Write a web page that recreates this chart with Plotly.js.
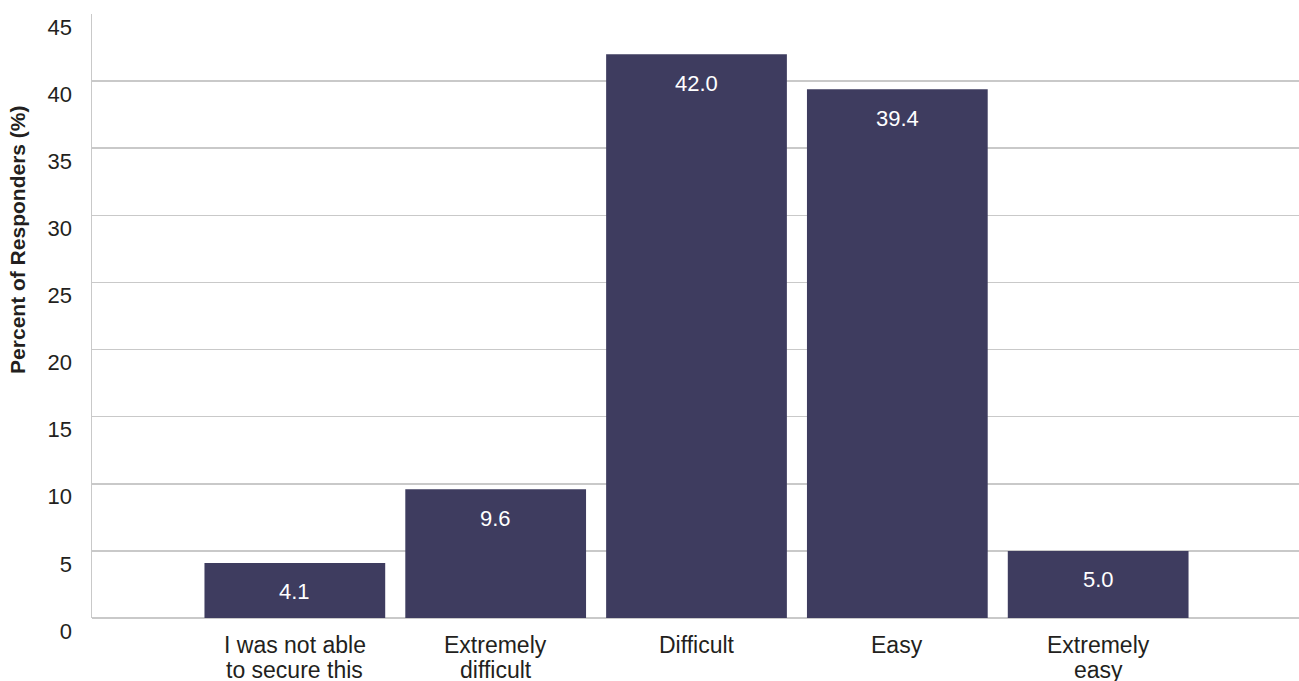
<!DOCTYPE html>
<html>
<head>
<meta charset="utf-8">
<script src="https://cdn.plot.ly/plotly-3.0.1.min.js"></script>
<style>
  html, body { margin: 0; padding: 0; background: #ffffff; }
  #chart { width: 1299px; height: 681px; }
</style>
</head>
<body>
<div id="chart"></div>
<script>
const categories = [
  "I was not able<br>to secure this",
  "Extremely<br>difficult",
  "Difficult",
  "Easy",
  "Extremely<br>easy"
];
const percentValues = [4.1, 9.6, 42.0, 39.4, 5.0];
const valueLabels = ["4.1", "9.6", "42.0", "39.4", "5.0"];
const yTickValues = [0, 5, 10, 15, 20, 25, 30, 35, 40, 45];
const yAxisTitle = "Percent of Responders (%)";

const FONT = "Liberation Sans, Arial, Helvetica, sans-serif";
const TEXT = "#231f20";
const BAR = "#3e3c5f";

const trace = {
  type: "bar",
  x: categories,
  y: percentValues,
  marker: { color: BAR, line: { width: 0 } },
  hoverinfo: "x+y"
};

const valueAnnotations = categories.map((c, i) => ({
  x: c, y: percentValues[i], xref: "x", yref: "y",
  text: valueLabels[i], showarrow: false,
  yanchor: "middle", xanchor: "center", yshift: -29,
  font: { family: FONT, size: 22, color: "#ffffff" }
}));

// category labels drawn line by line (tighter line spacing than Plotly's default)
const categoryAnnotations = [];
categories.forEach(c => {
  c.split("<br>").forEach((line, j) => {
    categoryAnnotations.push({
      x: c, y: 0, xref: "x", yref: "y",
      text: line, showarrow: false,
      xanchor: "center", yanchor: "middle",
      yshift: -26.5 - 25 * j,
      font: { family: FONT, size: 23, color: TEXT }
    });
  });
});

const titleAnnotation = {
  xref: "paper", yref: "paper", x: -0.0613, y: 0.626,
  text: "<b>" + yAxisTitle + "</b>", textangle: -90, showarrow: false,
  xanchor: "center", yanchor: "middle",
  font: { family: FONT, size: 21, color: TEXT }
};

const layout = {
  width: 1299, height: 681,
  margin: { l: 92, r: 0, t: 14, b: 63 },
  paper_bgcolor: "#ffffff", plot_bgcolor: "#ffffff",
  showlegend: false,
  bargap: 0.1,
  font: { family: FONT, size: 22, color: TEXT },
  xaxis: {
    type: "category",
    range: [-1.01, 5.0],
    showgrid: false, zeroline: false,
    showline: false, ticks: "",
    showticklabels: false
  },
  yaxis: {
    range: [0, 45],
    tickvals: yTickValues,
    ticktext: yTickValues.map(String),
    showgrid: true, gridcolor: "#c9c9c9", gridwidth: 1.5,
    zeroline: true, zerolinecolor: "#c9c9c9", zerolinewidth: 1.5,
    showline: true, linecolor: "#c9c9c9", linewidth: 1.5,
    ticks: "",
    tickfont: { family: FONT, size: 22, color: TEXT },
    ticklabelshift: 13,
    ticklabelstandoff: 14
  },
  annotations: valueAnnotations.concat(categoryAnnotations, [titleAnnotation])
};

Plotly.newPlot("chart", [trace], layout, { displayModeBar: false, staticPlot: true });
</script>
</body>
</html>
